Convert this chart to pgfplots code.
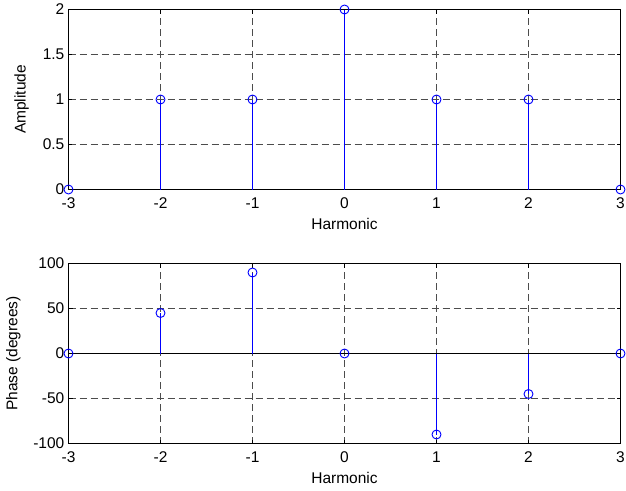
\documentclass[border=0pt]{standalone}
\usepackage{fontspec}
\setmainfont{Liberation Sans}
\usepackage{pgfplots}
\pgfplotsset{compat=1.18}

\definecolor{stemblue}{RGB}{0,0,255}

\pgfplotsset{
  stemax/.style={
    scale only axis,
    width=552pt,
    height=180pt,
    xmin=-3, xmax=3,
    xtick={-3,-2,...,3},
    clip=false,
    axis line style={black, line width=1pt},
    tick align=inside,
    major tick length=4pt,
    tick style={black, line width=1pt},
    grid=major,
    major grid style={black!70, dash pattern=on 7pt off 4pt, line width=1pt},
    /pgf/number format/assume math mode=true,
    ticklabel style={font=\fontsize{15.5}{17}\selectfont},
    label style={font=\fontsize{15.5}{17}\selectfont},
    xticklabel style={anchor=north, inner sep=0pt, yshift=-8pt},
    yticklabel style={anchor=east, inner sep=0pt, xshift=-4pt},
    xlabel={Harmonic},
  },
  stem/.style={stemblue, line width=1pt, ycomb,
    mark=o, mark size=4.5pt, mark options={line width=0.9pt}},
}

\begin{document}
\begin{tikzpicture}
\path[use as bounding box] (0pt,0pt) rectangle (626pt,-490pt);

\begin{axis}[stemax,
  at={(68.5pt,-189.5pt)}, anchor=south west,
  ymin=0, ymax=2,
  ytick={0,0.5,1,1.5,2},
  yticklabels={0,0.5,1,1.5,2},
  ylabel={Amplitude},
  ylabel style={at={(axis description cs:-0.085,0.5)}, anchor=center},
  xlabel style={at={(axis description cs:0.5,-0.194)}, anchor=center},
]
\addplot[stem] coordinates {
  (-3,0) (-2,1) (-1,1) (0,2) (1,1) (2,1) (3,0)
};
\end{axis}

\begin{axis}[stemax,
  at={(68.5pt,-443.5pt)}, anchor=south west,
  ymin=-100, ymax=100,
  ytick={-100,-50,0,50,100},
  yticklabels={-100,-50,0,50,100},
  ylabel={Phase (degrees)},
  ylabel style={at={(axis description cs:-0.1,0.5)}, anchor=center},
  xlabel style={at={(axis description cs:0.5,-0.194)}, anchor=center},
]
\addplot[black, line width=1pt, forget plot] coordinates {(-3,0) (3,0)};
\addplot[stem] coordinates {
  (-3,0) (-2,45) (-1,90) (0,0) (1,-90) (2,-45) (3,0)
};
\end{axis}
\end{tikzpicture}
\end{document}
